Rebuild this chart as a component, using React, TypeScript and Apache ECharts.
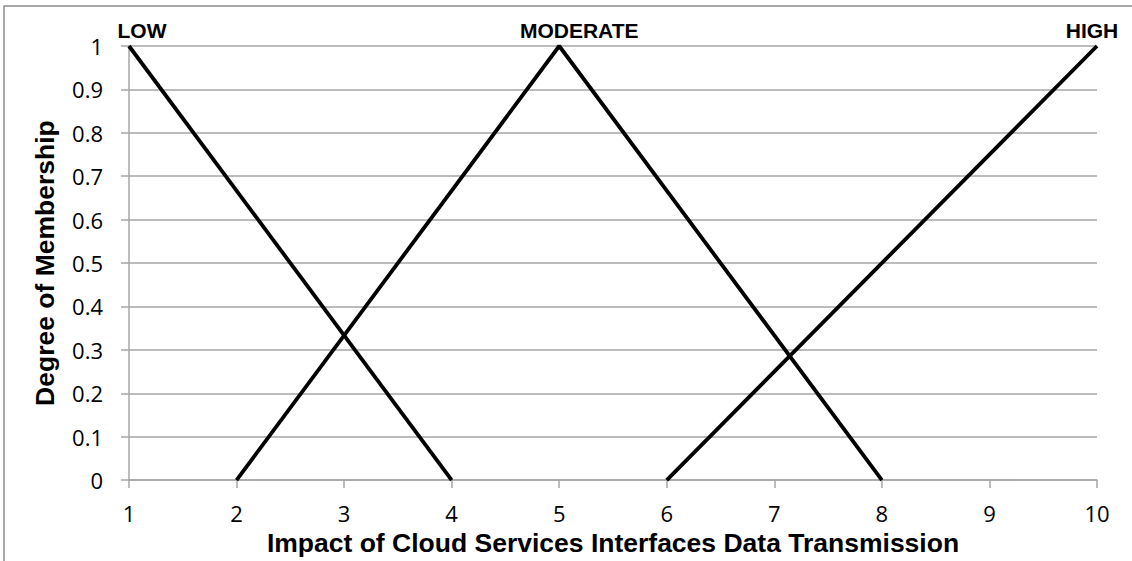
import React, { useEffect, useRef } from "react";
import * as echarts from "echarts";

const seriesNames = ["LOW", "MODERATE", "HIGH"];
const lowX = [1, 4];
const lowY = [1, 0];
const modX = [2, 5, 8];
const modY = [0, 1, 0];
const highX = [6, 10];
const highY = [0, 1];
const labelOffsets = [
  [13, 0],
  [20, 0],
  [-5, 0],
];
const xTitle = "Impact of Cloud Services Interfaces Data Transmission";
const yTitle = "Degree of Membership";

const GRID = "#a6a6a6";

function build(xs: number[], ys: number[], idx: number) {
  const peak = ys.indexOf(Math.max(...ys));
  return xs.map((x, i) => {
    const item: any = { value: [x, ys[i]] };
    if (i === peak) {
      item.label = {
        show: true,
        position: "top",
        distance: 5,
        offset: labelOffsets[idx],
        formatter: seriesNames[idx],
        fontFamily: "Liberation Sans, Arial, sans-serif",
        fontWeight: "bold",
        fontSize: 21,
        color: "#000",
      };
    }
    return item;
  });
}

export default function App() {
  const ref = useRef<HTMLDivElement>(null);
  useEffect(() => {
    if (!ref.current) return;
    const chart = echarts.init(ref.current, null, { renderer: "svg" });
    const all = [
      [lowX, lowY],
      [modX, modY],
      [highX, highY],
    ];
    chart.setOption({
      animation: false,
      backgroundColor: "#fff",
      grid: { left: 129, right: 35, top: 46, bottom: 78 },
      graphic: [
        {
          type: "rect",
          shape: { x: 4, y: 6, width: 1150, height: 600 },
          style: { fill: "none", stroke: "#8c8c8c", lineWidth: 1.5 },
          silent: true,
        },
      ],
      xAxis: {
        type: "value",
        min: 1,
        max: 10,
        interval: 1,
        name: xTitle,
        nameLocation: "middle",
        nameGap: 47,
        nameTextStyle: {
          fontFamily: "Liberation Sans, Arial, sans-serif",
          fontWeight: "bold",
          fontSize: 26.5,
          color: "#000",
        },
        axisLine: { show: true, lineStyle: { color: GRID, width: 1.5 } },
        axisTick: { show: true, length: 8, lineStyle: { color: GRID, width: 1.5 } },
        axisLabel: {
          margin: 22,
          fontFamily: "Open Sans, sans-serif",
          fontSize: 22,
          color: "#000",
        },
        splitLine: { show: false },
      },
      yAxis: {
        type: "value",
        min: 0,
        max: 1,
        interval: 0.1,
        name: yTitle,
        nameLocation: "middle",
        nameGap: 71,
        nameRotate: 90,
        nameTextStyle: {
          fontFamily: "Liberation Sans, Arial, sans-serif",
          fontWeight: "bold",
          fontSize: 26.5,
          color: "#000",
        },
        axisLine: { show: true, lineStyle: { color: GRID, width: 1.5 } },
        axisTick: { show: true, length: 8, lineStyle: { color: GRID, width: 1.5 } },
        axisLabel: {
          margin: 26,
          fontFamily: "Open Sans, sans-serif",
          fontSize: 22,
          color: "#000",
          formatter: (v: number) => String(Math.round(v * 10) / 10),
        },
        splitLine: { show: true, lineStyle: { color: GRID, width: 1.5 } },
      },
      series: all.map(([xs, ys], idx) => ({
        type: "line",
        name: seriesNames[idx],
        data: build(xs, ys, idx),
        symbol: "circle",
        symbolSize: 0.01,
        showSymbol: true,
        clip: false,
        itemStyle: { color: "#000" },
        lineStyle: { color: "#000", width: 3.8 },
        z: 5,
      })),
    });
    return () => chart.dispose();
  }, []);
  return (
    <div
      ref={ref}
      style={{ position: "fixed", left: 0, top: 0, width: 1132, height: 561 }}
    />
  );
}
